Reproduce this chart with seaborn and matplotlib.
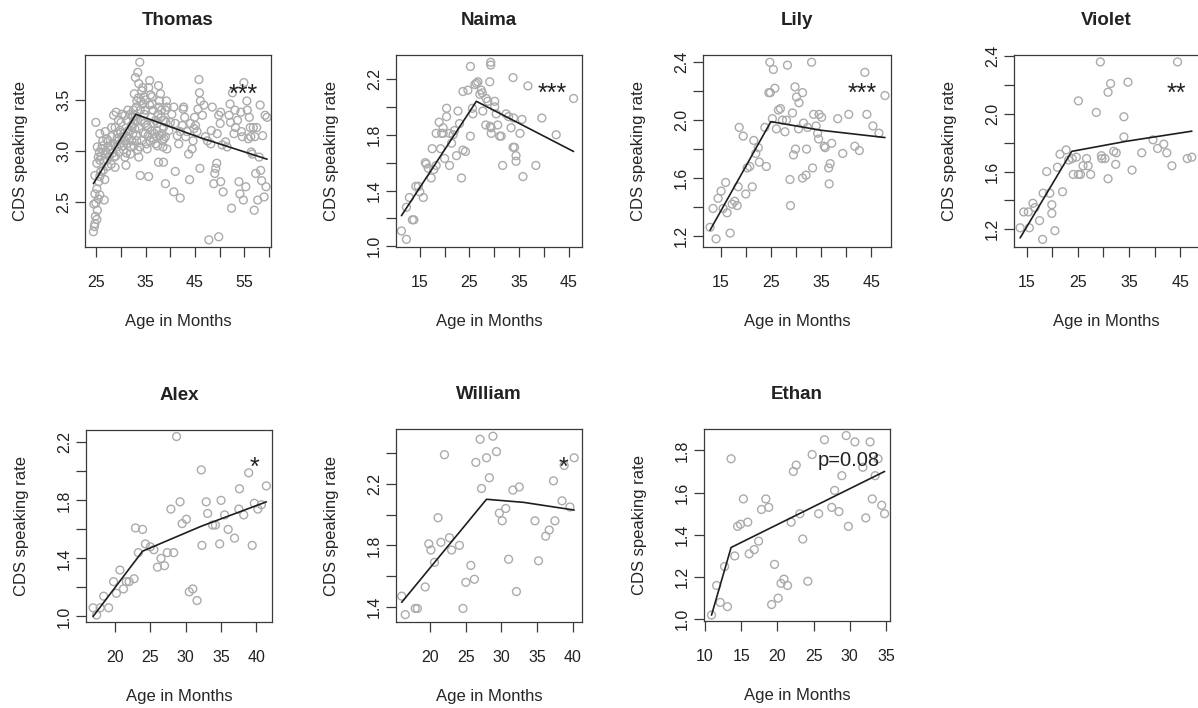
import numpy as np
import pandas as pd
import matplotlib
matplotlib.use("Agg")
import matplotlib.pyplot as plt
import seaborn as sns

# Speaking rate in child-directed speech, per child (age in months, rate)
thomas_pts = [
    (24.4, 2.21), (24.6, 2.26), (24.7, 2.29), (25.1, 2.33), (24.8, 2.36), (25.2, 2.42), (24.9, 2.49),
    (24.5, 2.48), (25.4, 2.53), (25.7, 2.57), (24.7, 2.58), (25.1, 2.63), (25.5, 2.70), (24.7, 2.76),
    (25.7, 2.75), (24.9, 3.28), (25.7, 3.17), (25.4, 2.94), (25.1, 2.88), (25.2, 3.04), (25.6, 2.99),
    (26.1, 3.02), (25.7, 2.91), (26.4, 2.81), (26.6, 2.52), (26.3, 3.10), (26.8, 3.19), (27.0, 2.97),
    (27.2, 2.91), (27.4, 3.10), (27.4, 3.04), (27.8, 3.01), (28.1, 3.14), (28.1, 3.23), (28.5, 3.07),
    (28.6, 2.94), (28.8, 2.84), (29.1, 3.04), (29.5, 3.10), (28.5, 3.35), (29.0, 3.38), (29.8, 3.20),
    (30.2, 3.14), (29.8, 3.07), (30.5, 3.01), (30.6, 3.17), (30.8, 2.94), (31.0, 2.86), (31.2, 3.07),
    (31.3, 3.14), (31.5, 3.20), (31.9, 2.97), (32.0, 3.04), (32.2, 3.10), (32.4, 3.17), (32.5, 3.27),
    (32.5, 3.40), (32.9, 3.35), (33.1, 3.43), (33.2, 3.49), (32.9, 3.30), (32.7, 3.56), (32.9, 3.72),
    (33.6, 3.66), (33.8, 3.87), (33.4, 3.77), (33.9, 3.40), (34.0, 3.49), (34.2, 3.59), (34.4, 3.46),
    (34.6, 3.53), (34.7, 3.36), (34.8, 3.27), (34.9, 3.17), (35.1, 3.07), (35.3, 3.02), (35.4, 3.23),
    (35.6, 3.62), (35.8, 3.69), (35.9, 3.10), (36.1, 3.33), (36.3, 3.46), (36.3, 3.53), (36.5, 3.40),
    (36.6, 3.27), (36.8, 3.17), (37.0, 3.07), (37.2, 3.14), (37.3, 3.20), (37.4, 3.27), (37.5, 3.36),
    (37.6, 3.43), (37.8, 3.49), (38.0, 3.56), (37.6, 3.64), (38.1, 3.33), (38.3, 3.17), (38.4, 3.10),
    (38.5, 3.04), (38.6, 3.23), (38.8, 3.30), (39.0, 3.40), (39.2, 3.49), (39.3, 3.43), (39.0, 3.14),
    (33.9, 2.76), (35.6, 2.75), (33.6, 2.94), (33.4, 3.01), (33.8, 3.04), (34.2, 3.10), (33.2, 3.10),
    (33.1, 3.15), (32.2, 3.23), (32.4, 3.33), (31.9, 3.36), (31.2, 3.30), (30.8, 3.35), (30.2, 3.36),
    (29.5, 3.30), (28.8, 3.23), (29.3, 3.17), (38.6, 2.89), (37.6, 2.89), (39.0, 2.68), (40.7, 2.60),
    (42.0, 2.54), (41.0, 2.80), (39.3, 3.02), (39.7, 3.20), (40.0, 3.28), (40.3, 3.36), (40.7, 3.43),
    (41.0, 3.27), (41.4, 3.15), (41.7, 3.07), (42.0, 3.19), (42.4, 3.25), (42.6, 3.41), (42.7, 3.43),
    (42.9, 3.33), (43.1, 3.14), (43.4, 3.19), (43.7, 2.97), (43.9, 2.72), (44.1, 3.27), (44.4, 3.02),
    (44.6, 3.10), (44.8, 3.22), (44.9, 3.33), (45.1, 3.25), (45.4, 3.19), (45.6, 3.41), (45.8, 3.70),
    (45.9, 3.57), (46.1, 3.49), (46.0, 2.83), (46.5, 3.35), (46.8, 3.45), (47.1, 3.14), (47.5, 3.10),
    (47.8, 2.13), (48.2, 3.07), (48.3, 3.20), (48.5, 3.43), (48.8, 2.68), (49.0, 2.78), (49.2, 2.83),
    (49.4, 2.88), (49.5, 3.17), (49.8, 3.35), (50.1, 3.27), (50.2, 3.38), (49.8, 2.16), (50.2, 2.70),
    (50.5, 3.06), (50.7, 2.60), (51.2, 3.09), (51.5, 3.04), (51.9, 3.35), (52.1, 3.46), (52.2, 3.28),
    (52.4, 2.44), (52.6, 3.57), (52.9, 3.17), (53.1, 3.40), (53.2, 3.23), (53.6, 3.30), (53.9, 2.70),
    (54.1, 2.58), (54.3, 3.38), (54.4, 3.19), (54.6, 3.14), (54.8, 2.52), (54.9, 3.67), (55.3, 2.65),
    (55.5, 3.49), (55.6, 3.40), (55.8, 3.12), (56.0, 3.33), (56.2, 3.23), (56.3, 3.14), (56.4, 2.99),
    (56.6, 2.97), (56.8, 3.23), (57.0, 2.42), (57.1, 3.14), (57.3, 2.78), (57.5, 3.23), (57.7, 2.52),
    (58.0, 2.94), (58.2, 3.45), (58.3, 2.81), (58.5, 2.71), (58.7, 3.15), (59.0, 2.55), (59.2, 3.35),
    (59.4, 2.65), (59.6, 3.33),
    (26.0, 2.95), (26.2, 3.05), (26.5, 2.90), (26.9, 3.00), (27.1, 3.12), (27.6, 2.95), (27.9, 3.05),
    (28.3, 2.98), (28.0, 2.87), (28.9, 2.95), (29.2, 3.12), (29.6, 2.99), (29.9, 3.18), (30.3, 3.05),
    (30.7, 3.10), (31.1, 2.98), (31.6, 3.12), (32.1, 3.25), (32.6, 3.05), (32.8, 3.22), (33.3, 3.30),
    (33.7, 3.22), (34.1, 3.30), (34.5, 3.18), (34.9, 3.40), (35.2, 3.25), (35.5, 3.15), (35.8, 3.45),
    (36.2, 3.20), (36.6, 3.12), (37.0, 3.30), (37.4, 3.05), (37.8, 3.15), (38.2, 3.40), (38.7, 3.12),
    (39.1, 3.28), (36.0, 3.55), (34.4, 3.62), (33.5, 3.52), (35.0, 3.50), (25.9, 2.80), (26.7, 2.72),
    (27.3, 2.85), (31.4, 3.40), (30.0, 3.28),
]
naima_pts = [
    (11.3, 1.11), (12.3, 1.05), (12.9, 1.35), (12.3, 1.28), (13.5, 1.19), (13.8, 1.19), (14.2, 1.43),
    (14.7, 1.43), (15.7, 1.35), (15.0, 1.39), (16.1, 1.60), (16.3, 1.59), (16.7, 1.56), (17.3, 1.49),
    (17.5, 1.70), (17.8, 1.55), (18.3, 1.58), (18.3, 1.81), (18.9, 1.89), (19.2, 1.70), (19.4, 1.81),
    (19.7, 1.85), (19.7, 1.81), (20.0, 1.63), (20.4, 1.99), (20.4, 1.93), (21.0, 1.58), (21.0, 1.81),
    (21.4, 1.74), (21.7, 1.80), (22.0, 1.83), (22.4, 1.65), (22.7, 1.97), (23.0, 1.88), (23.4, 1.49),
    (23.7, 2.11), (23.7, 1.69), (24.2, 1.68), (24.7, 2.12), (25.2, 1.79), (25.2, 2.29), (25.6, 1.99),
    (25.7, 1.95), (26.1, 2.16), (26.4, 2.17), (26.7, 2.18), (27.1, 2.09), (27.4, 2.12), (27.6, 2.10),
    (27.7, 1.97), (28.3, 1.87), (28.4, 2.06), (28.7, 2.04), (29.1, 2.18), (29.2, 1.86), (29.4, 1.85),
    (29.4, 1.81), (29.3, 2.32), (29.3, 2.30), (30.1, 2.04), (30.1, 2.00), (30.4, 1.95), (30.7, 1.87),
    (31.1, 1.79), (31.4, 1.79), (31.7, 1.58), (32.4, 1.95), (32.9, 1.93), (33.4, 1.85), (33.8, 2.21),
    (33.9, 1.92), (33.8, 1.71), (34.1, 1.71), (34.4, 1.65), (34.4, 1.61), (35.2, 1.81), (35.6, 1.91),
    (35.8, 1.50), (36.8, 2.15), (38.4, 1.58), (39.6, 1.92), (42.5, 1.80), (46.0, 2.06),
]
lily_pts = [
    (12.9, 1.26), (13.5, 1.39), (14.1, 1.18), (14.5, 1.46), (15.1, 1.51), (15.5, 1.39), (16.0, 1.57),
    (16.3, 1.36), (16.9, 1.22), (17.3, 1.42), (17.8, 1.44), (18.3, 1.41), (18.5, 1.54), (18.7, 1.95),
    (19.5, 1.89), (20.0, 1.49), (20.3, 1.67), (20.8, 1.68), (21.3, 1.54), (21.6, 1.86), (22.0, 1.77),
    (22.5, 1.81), (22.7, 1.71), (23.8, 1.95), (24.1, 1.68), (24.6, 2.19), (24.8, 2.40), (24.9, 2.19),
    (25.5, 2.35), (25.3, 2.01), (25.8, 2.22), (26.1, 1.94), (26.5, 2.07), (26.9, 2.08), (27.3, 2.00),
    (27.8, 1.92), (28.1, 2.00), (28.3, 2.38), (28.8, 1.59), (28.9, 1.41), (29.3, 2.05), (29.5, 1.76),
    (29.8, 2.23), (29.9, 1.80), (30.1, 2.16), (30.5, 1.94), (30.6, 2.12), (31.3, 2.19), (31.3, 1.60),
    (31.5, 1.98), (32.0, 1.62), (32.1, 1.80), (32.3, 1.95), (33.1, 2.40), (33.3, 1.67), (33.5, 2.04),
    (34.0, 1.96), (34.3, 1.91), (34.5, 1.87), (34.6, 2.04), (35.1, 2.02), (35.6, 1.82), (35.8, 1.81),
    (36.5, 1.67), (36.8, 1.70), (37.1, 1.84), (38.3, 2.01), (39.3, 1.77), (40.5, 2.04), (41.7, 1.82),
    (42.6, 1.79), (44.1, 2.04), (43.7, 2.33), (45.3, 1.96), (46.5, 1.91), (47.7, 2.17), (36.6, 1.56),
]
violet_pts = [
    (13.7, 1.21), (14.4, 1.32), (15.3, 1.32), (15.5, 1.21), (16.2, 1.38), (16.6, 1.35), (17.5, 1.26),
    (18.1, 1.13), (18.2, 1.45), (18.9, 1.60), (19.5, 1.45), (19.9, 1.37), (19.9, 1.31), (20.5, 1.19),
    (21.0, 1.63), (22.0, 1.46), (21.5, 1.72), (22.7, 1.75), (23.2, 1.68), (23.9, 1.69), (24.1, 1.58),
    (24.7, 1.70), (25.1, 2.09), (25.1, 1.58), (25.5, 1.58), (26.0, 1.64), (26.7, 1.69), (27.0, 1.64),
    (27.5, 1.58), (28.6, 2.01), (29.4, 2.36), (29.6, 1.71), (29.7, 1.69), (30.3, 1.69), (30.9, 2.15),
    (31.4, 2.21), (30.9, 1.55), (32.0, 1.74), (32.5, 1.73), (32.4, 1.65), (34.0, 1.98), (34.0, 1.84),
    (34.8, 2.22), (35.6, 1.61), (37.5, 1.73), (39.7, 1.82), (40.6, 1.76), (41.8, 1.79), (42.4, 1.73),
    (43.4, 1.64), (44.5, 2.36), (46.4, 1.69), (47.3, 1.70),
]
alex_pts = [
    (16.9, 1.06), (17.4, 1.01), (17.9, 1.06), (18.4, 1.14), (19.1, 1.06), (19.8, 1.24), (20.2, 1.16),
    (20.7, 1.32), (21.2, 1.19), (21.6, 1.24), (22.0, 1.24), (22.7, 1.26), (22.9, 1.61), (23.3, 1.44),
    (23.9, 1.60), (24.3, 1.50), (25.0, 1.48), (25.5, 1.46), (26.0, 1.34), (26.5, 1.40), (27.0, 1.35),
    (27.4, 1.44), (27.9, 1.74), (28.3, 1.44), (28.7, 2.24), (29.2, 1.79), (29.5, 1.64), (30.1, 1.67),
    (30.5, 1.17), (31.0, 1.19), (31.6, 1.11), (32.2, 2.01), (32.3, 1.49), (32.9, 1.79), (33.1, 1.71),
    (33.8, 1.63), (34.2, 1.63), (34.8, 1.50), (35.0, 1.80), (35.5, 1.70), (36.0, 1.60), (36.9, 1.54),
    (37.6, 1.88), (37.5, 1.74), (38.2, 1.70), (38.9, 1.99), (39.4, 1.49), (39.7, 1.78), (40.2, 1.74),
    (40.7, 1.77), (41.4, 1.90),
]
william_pts = [
    (16.0, 1.47), (16.5, 1.35), (17.9, 1.39), (18.2, 1.39), (19.3, 1.53), (19.8, 1.81), (20.1, 1.77),
    (20.6, 1.69), (21.1, 1.98), (21.5, 1.82), (22.0, 2.39), (22.7, 1.85), (23.0, 1.77), (24.1, 1.80),
    (24.6, 1.39), (25.0, 1.56), (25.7, 1.67), (26.2, 1.58), (26.4, 2.34), (27.0, 2.49), (27.2, 2.17),
    (27.9, 2.37), (28.3, 2.24), (28.8, 2.51), (29.3, 2.41), (29.7, 2.01), (30.1, 1.96), (30.6, 2.04),
    (31.0, 1.71), (31.6, 2.16), (32.1, 1.50), (32.5, 2.18), (34.7, 1.96), (35.2, 1.70), (36.2, 1.86),
    (36.7, 1.90), (37.3, 2.22), (37.5, 1.96), (38.5, 2.09), (38.8, 2.32), (39.6, 2.05), (40.2, 2.37),
]
ethan_pts = [
    (10.9, 1.02), (11.6, 1.16), (12.1, 1.08), (12.7, 1.25), (13.1, 1.06), (13.6, 1.76), (14.1, 1.30),
    (14.5, 1.44), (14.9, 1.45), (15.3, 1.57), (15.9, 1.46), (16.1, 1.31), (16.8, 1.33), (17.4, 1.37),
    (17.8, 1.52), (18.4, 1.57), (18.8, 1.53), (19.2, 1.07), (19.6, 1.26), (20.1, 1.10), (20.5, 1.17),
    (20.9, 1.19), (21.4, 1.16), (21.9, 1.46), (22.2, 1.70), (22.6, 1.73), (23.1, 1.50), (23.5, 1.38),
    (24.2, 1.18), (24.8, 1.78), (25.7, 1.50), (26.5, 1.85), (27.5, 1.53), (27.9, 1.61), (28.5, 1.51),
    (28.9, 1.68), (29.5, 1.87), (29.8, 1.44), (30.7, 1.84), (31.8, 1.72), (32.2, 1.48), (32.8, 1.84),
    (33.1, 1.57), (33.5, 1.68), (33.9, 1.76), (34.4, 1.54), (34.8, 1.50),
]

# piecewise regression fits
thomas_fit = [(24.4, 2.68), (33.0, 3.36), (46.1, 3.13), (59.6, 2.92)]
naima_fit = [(11.3, 1.22), (26.4, 2.04), (46.0, 1.68)]
lily_fit = [(12.9, 1.24), (25.0, 1.99), (35.0, 1.93), (47.7, 1.88)]
violet_fit = [(13.7, 1.14), (23.8, 1.74), (34.5, 1.81), (47.3, 1.88)]
alex_fit = [(16.9, 1.00), (23.9, 1.45), (32.1, 1.62), (41.4, 1.79)]
william_fit = [(16.0, 1.43), (27.9, 2.10), (33.1, 2.08), (40.2, 2.03)]
ethan_fit = [(10.9, 1.02), (13.6, 1.34), (34.8, 1.70)]

children = ["Thomas", "Naima", "Lily", "Violet", "Alex", "William", "Ethan"]
signif = ["***", "***", "***", "**", "*", "*", "p=0.08"]

xlims = [(22.7, 60.4), (10.2, 47.7), (11.5, 48.9), (12.5, 48.7), (15.9, 42.2), (15.2, 41.3), (9.86, 35.55)]
ylims = [(2.06, 3.94), (0.995, 2.372), (1.124, 2.45), (1.077, 2.408), (0.962, 2.285), (1.302, 2.557), (0.992, 1.901)]

xticks = [[25, 30, 35, 40, 45, 50, 55, 60], [15, 20, 25, 30, 35, 40, 45], [15, 20, 25, 30, 35, 40, 45],
          [15, 20, 25, 30, 35, 40, 45], [20, 25, 30, 35, 40], [20, 25, 30, 35, 40], [10, 15, 20, 25, 30, 35]]
xticklabels = [["25", "", "35", "", "45", "", "55", ""], ["15", "", "25", "", "35", "", "45"],
               ["15", "", "25", "", "35", "", "45"], ["15", "", "25", "", "35", "", "45"],
               ["20", "25", "30", "35", "40"], ["20", "25", "30", "35", "40"],
               ["10", "15", "20", "25", "30", "35"]]
yticks = [[2.5, 3.0, 3.5], [1.0, 1.2, 1.4, 1.6, 1.8, 2.0, 2.2], [1.2, 1.4, 1.6, 1.8, 2.0, 2.2, 2.4],
          [1.2, 1.4, 1.6, 1.8, 2.0, 2.2, 2.4], [1.0, 1.2, 1.4, 1.6, 1.8, 2.0, 2.2],
          [1.4, 1.6, 1.8, 2.0, 2.2, 2.4], [1.0, 1.2, 1.4, 1.6, 1.8]]
yticklabels = [["2.5", "3.0", "3.5"], ["1.0", "", "1.4", "", "1.8", "", "2.2"],
               ["1.2", "", "1.6", "", "2.0", "", "2.4"], ["1.2", "", "1.6", "", "2.0", "", "2.4"],
               ["1.0", "", "1.4", "", "1.8", "", "2.2"], ["1.4", "", "1.8", "", "2.2", ""],
               ["1.0", "1.2", "1.4", "1.6", "1.8"]]

# annotation position inside each panel (axes fraction, glyph centre)
note_xy = [(0.852, 0.83), (0.84, 0.835), (0.845, 0.835), (0.88, 0.835), (0.905, 0.84), (0.90, 0.837), (0.78, 0.843)]

all_pts = [thomas_pts, naima_pts, lily_pts, violet_pts, alex_pts, william_pts, ethan_pts]
all_fit = [thomas_fit, naima_fit, lily_fit, violet_fit, alex_fit, william_fit, ethan_fit]

sns.set_theme(style="ticks")
plt.rcParams["font.family"] = ["Liberation Sans", "DejaVu Sans"]
plt.rcParams["axes.edgecolor"] = "#3a3a3a"
plt.rcParams["axes.linewidth"] = 0.9
plt.rcParams["text.color"] = "#222222"

W, H = 1198, 708
fig = plt.figure(figsize=(W / 100, H / 100), dpi=100)

# panel boxes in pixels: left, top, right, bottom
boxes = [(85, 55, 271, 247), (396, 55, 582, 247), (703, 55, 891, 247), (1014, 55, 1199, 247),
         (86, 430, 272, 622), (396, 429, 582, 622), (704, 429, 890, 621)]

GRAY = "#ababab"

for i, name in enumerate(children):
    l, t, r, b = boxes[i]
    w, h = r - l, b - t
    ax = fig.add_axes([l / W, 1 - b / H, w / W, h / H])
    pts = pd.DataFrame(all_pts[i], columns=["age", "rate"])
    fit = pd.DataFrame(all_fit[i], columns=["age", "rate"])
    sns.scatterplot(data=pts, x="age", y="rate", ax=ax, s=32, facecolor="none",
                    edgecolor=GRAY, linewidth=1.0, zorder=2)
    sns.lineplot(data=fit, x="age", y="rate", ax=ax, color="#1e1e1e", lw=1.2,
                 sort=False, estimator=None, zorder=3)
    ax.set_xlim(*xlims[i])
    ax.set_ylim(*ylims[i])
    ax.set_xticks(xticks[i])
    ax.set_xticklabels(xticklabels[i])
    ax.set_yticks(yticks[i])
    ax.set_yticklabels(yticklabels[i], rotation=90, va="center")
    ax.tick_params(axis="x", direction="out", length=7, width=0.9, pad=13, bottom=True,
                   labelsize=11.5, colors="#3a3a3a", labelcolor="#222222")
    ax.tick_params(axis="y", direction="out", length=7, width=0.9, pad=3, left=True,
                   labelsize=11.5, colors="#3a3a3a", labelcolor="#222222")
    for sp in ax.spines.values():
        sp.set_visible(True)
    ax.set_xlabel("Age in Months", fontsize=12)
    ax.set_ylabel("CDS speaking rate", fontsize=12)
    ax.xaxis.set_label_coords(0.5, -(314 - 247) / 192)
    ax.yaxis.set_label_coords(-(85 - 28) / w, 0.5)
    ax.set_title(name, fontsize=13.5, fontweight="bold", pad=21.5)

    fx, fy = note_xy[i]
    if signif[i].startswith("p"):
        ax.text(fx, fy - 7.2 / h, signif[i], transform=ax.transAxes, ha="center",
                va="baseline", fontsize=14.5)
    else:
        ax.text(fx, fy - 14.0 / h, signif[i], transform=ax.transAxes, ha="center",
                va="baseline", fontsize=18)

fig.savefig("out.png", dpi=100)
